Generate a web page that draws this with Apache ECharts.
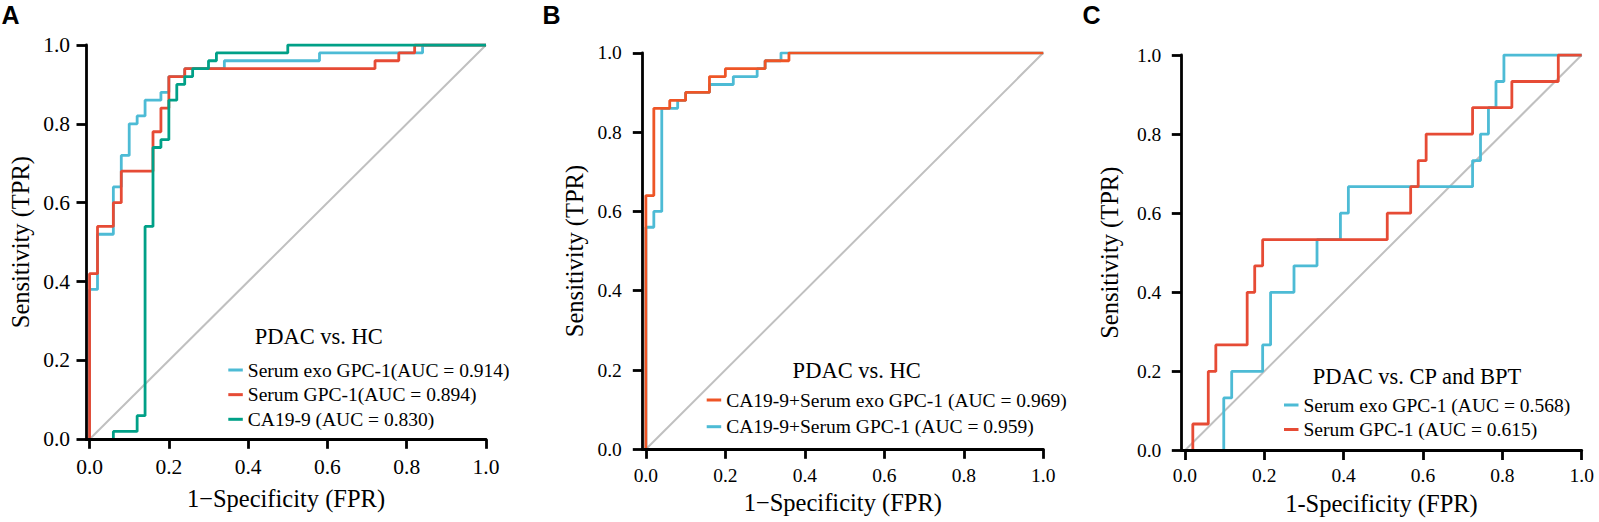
<!DOCTYPE html>
<html>
<head>
<meta charset="utf-8">
<script src="https://cdn.jsdelivr.net/npm/echarts@6/dist/echarts.min.js"></script>
<style>
html,body{margin:0;padding:0;background:#fff;}
#chart{width:1599px;height:522px;}
</style>
</head>
<body>
<div id="chart"></div>
<script>
// ---------- Data (ROC vertices: FPR / TPR) ----------
const tickValues = [0, 0.2, 0.4, 0.6, 0.8, 1.0];
const diagFpr = [0, 1];
const diagTpr = [0, 1];

// Panel A: PDAC vs. HC
const aNames = ['Serum exo GPC-1(AUC = 0.914)', 'Serum GPC-1(AUC = 0.894)', 'CA19-9 (AUC = 0.830)'];
const aExoFpr = [0, 0, 0.02, 0.06, 0.08, 0.10, 0.12, 0.14, 0.18, 0.20, 0.24, 0.34, 0.58, 0.84, 1.0];
const aExoTpr = [0, 0.38, 0.52, 0.64, 0.72, 0.80, 0.82, 0.86, 0.88, 0.92, 0.94, 0.96, 0.98, 1.0, 1.0];
const aGpcFpr = [0, 0, 0.02, 0.06, 0.08, 0.16, 0.18, 0.20, 0.24, 0.72, 0.78, 0.82, 1.0];
const aGpcTpr = [0, 0.42, 0.54, 0.60, 0.68, 0.78, 0.84, 0.92, 0.94, 0.96, 0.98, 1.0, 1.0];
const aCaFpr  = [0, 0.06, 0.12, 0.14, 0.16, 0.18, 0.20, 0.22, 0.24, 0.26, 0.30, 0.32, 0.50, 1.0];
const aCaTpr  = [0, 0.02, 0.06, 0.54, 0.74, 0.76, 0.86, 0.90, 0.92, 0.94, 0.96, 0.98, 1.0, 1.0];

// Panel B: PDAC vs. HC (combinations)
const bNames = ['CA19-9+Serum exo GPC-1 (AUC = 0.969)', 'CA19-9+Serum GPC-1 (AUC = 0.959)'];
const bExoFpr = [0, 0, 0.02, 0.06, 0.10, 0.16, 0.20, 0.30, 0.36, 1.0];
const bExoTpr = [0, 0.64, 0.86, 0.88, 0.90, 0.94, 0.96, 0.98, 1.0, 1.0];
const bGpcFpr = [0, 0, 0.02, 0.04, 0.08, 0.10, 0.16, 0.22, 0.28, 0.30, 0.34, 1.0];
const bGpcTpr = [0, 0.56, 0.60, 0.86, 0.88, 0.90, 0.92, 0.94, 0.96, 0.98, 1.0, 1.0];

// Panel C: PDAC vs. CP and BPT
const cNames = ['Serum exo GPC-1 (AUC = 0.568)', 'Serum GPC-1 (AUC = 0.615)'];
const cExoFpr = [0, 0.098, 0.118, 0.196, 0.216, 0.275, 0.333, 0.392, 0.412, 0.725, 0.745, 0.765, 0.784, 0.804, 1.0];
const cExoTpr = [0, 0.133, 0.200, 0.267, 0.400, 0.467, 0.533, 0.600, 0.667, 0.733, 0.800, 0.867, 0.933, 1.0, 1.0];
const cGpcFpr = [0, 0.020, 0.059, 0.078, 0.157, 0.176, 0.196, 0.510, 0.569, 0.588, 0.608, 0.725, 0.824, 0.941, 1.0];
const cGpcTpr = [0, 0.067, 0.200, 0.267, 0.400, 0.467, 0.533, 0.600, 0.667, 0.733, 0.800, 0.867, 0.933, 1.0, 1.0];

const panelTitles = ['PDAC vs. HC', 'PDAC vs. HC', 'PDAC vs. CP and BPT'];
const panelLetters = ['A', 'B', 'C'];
const xTitles = ['1\u2212Specificity (FPR)', '1\u2212Specificity (FPR)', '1-Specificity (FPR)'];
const yTitle = 'Sensitivity (TPR)';

// ---------- Styling / layout ----------
const SERIF = 'Liberation Serif';
const CYAN = '#4DBBD5', RED = '#E64B35', GREEN = '#00A087', ORANGE = '#EE5526', DIAG = '#C0C0C0';
const X_MIN = -0.009;

const grids = [
  {left: 86, top: 45, width: 400, height: 394.3},
  {left: 642.3, top: 52.8, width: 401, height: 396.5},
  {left: 1181.3, top: 55, width: 400.4, height: 395.5}
];
const lay = [
  {tickFont: 21.5, xLabMargin: 16.5, yLabMargin: 16, xNameGap: 47, yNameGap: 53},
  {tickFont: 19.5, xLabMargin: 16, yLabMargin: 20.5, xNameGap: 41, yNameGap: 55},
  {tickFont: 19.5, xLabMargin: 15, yLabMargin: 20, xNameGap: 40, yNameGap: 59}
];

const pairs = (xs, ys) => xs.map((x, i) => [x, ys[i]]);
const fmt = v => Number(v).toFixed(1);

const axisLineStyle = {color: '#000', width: 2.8};

const xAxes = grids.map((g, i) => ({
  type: 'value', gridIndex: i, min: X_MIN, max: 1, z: 5,
  axisLine: {show: true, onZero: false, lineStyle: axisLineStyle},
  axisTick: {show: true, length: 9.5, lineStyle: axisLineStyle, customValues: tickValues},
  axisLabel: {customValues: tickValues, formatter: fmt, fontFamily: SERIF, fontSize: lay[i].tickFont, color: '#000', margin: lay[i].xLabMargin},
  splitLine: {show: false},
  name: xTitles[i], nameLocation: 'middle', nameGap: lay[i].xNameGap,
  nameTextStyle: {fontFamily: SERIF, fontSize: 24.5, color: '#000'}
}));

const yAxes = grids.map((g, i) => ({
  type: 'value', gridIndex: i, min: 0, max: 1, interval: 0.2, z: 5,
  axisLine: {show: true, onZero: false, lineStyle: axisLineStyle},
  axisTick: {show: true, length: 9.5, lineStyle: axisLineStyle},
  axisLabel: {formatter: fmt, fontFamily: SERIF, fontSize: lay[i].tickFont, color: '#000', margin: lay[i].yLabMargin},
  splitLine: {show: false},
  name: yTitle, nameLocation: 'middle', nameGap: lay[i].yNameGap,
  nameTextStyle: {fontFamily: SERIF, fontSize: 24.5, color: '#000'}
}));

function roc(name, idx, xs, ys, color) {
  return {
    name: name, type: 'line', xAxisIndex: idx, yAxisIndex: idx,
    data: pairs(xs, ys), step: 'end', showSymbol: false, symbol: 'none',
    lineStyle: {color: color, width: 2.8}, itemStyle: {color: color},
    emphasis: {disabled: true}
  };
}
function diag(idx) {
  return {
    type: 'line', xAxisIndex: idx, yAxisIndex: idx, data: pairs(diagFpr, diagTpr),
    showSymbol: false, symbol: 'none', silent: true,
    lineStyle: {color: DIAG, width: 2}, emphasis: {disabled: true}
  };
}

const series = [
  diag(0),
  roc(aNames[0], 0, aExoFpr, aExoTpr, CYAN),
  roc(aNames[1], 0, aGpcFpr, aGpcTpr, RED),
  roc(aNames[2], 0, aCaFpr, aCaTpr, GREEN),
  diag(1),
  roc(bNames[1], 1, bGpcFpr, bGpcTpr, CYAN),
  roc(bNames[0], 1, bExoFpr, bExoTpr, ORANGE),
  diag(2),
  roc(cNames[0], 2, cExoFpr, cExoTpr, CYAN),
  roc(cNames[1], 2, cGpcFpr, cGpcTpr, RED)
];

function legend(names, left, top, gap) {
  return {
    data: names, orient: 'vertical', left: left, top: top, padding: 0,
    itemGap: gap, itemWidth: 14.5, itemHeight: 3, icon: 'rect', selectedMode: false,
    textStyle: {fontFamily: SERIF, fontSize: 19.5, color: '#000', lineHeight: 20}
  };
}

const titlePos = [[318.8, 336.5], [856.7, 370], [1417, 376.7]];
const letterPos = [[10.5, 14.5], [551.5, 14.5], [1091.5, 14.5]];
const graphics = [];
titlePos.forEach((p, i) => graphics.push({
  type: 'text', x: p[0], y: p[1], silent: true,
  style: {text: panelTitles[i], fontFamily: SERIF, fontSize: 22.5, fill: '#000',
          align: 'center', verticalAlign: 'middle', textAlign: 'center', textVerticalAlign: 'middle'}
}));
letterPos.forEach((p, i) => graphics.push({
  type: 'text', x: p[0], y: p[1], silent: true,
  style: {text: panelLetters[i], fontFamily: 'Liberation Sans', fontWeight: 'bold', fontSize: 25, fill: '#000',
          align: 'center', verticalAlign: 'middle', textAlign: 'center', textVerticalAlign: 'middle'}
}));

const option = {
  backgroundColor: '#fff',
  animation: false,
  grid: grids,
  xAxis: xAxes,
  yAxis: yAxes,
  legend: [
    legend(aNames, 228.3, 360, 4.65),
    legend(bNames, 706.7, 390, 6.7),
    legend(cNames, 1284, 395, 4.5)
  ],
  graphic: graphics,
  series: series
};

const chart = echarts.init(document.getElementById('chart'), null, {renderer: 'svg'});
chart.setOption(option);
</script>
</body>
</html>
